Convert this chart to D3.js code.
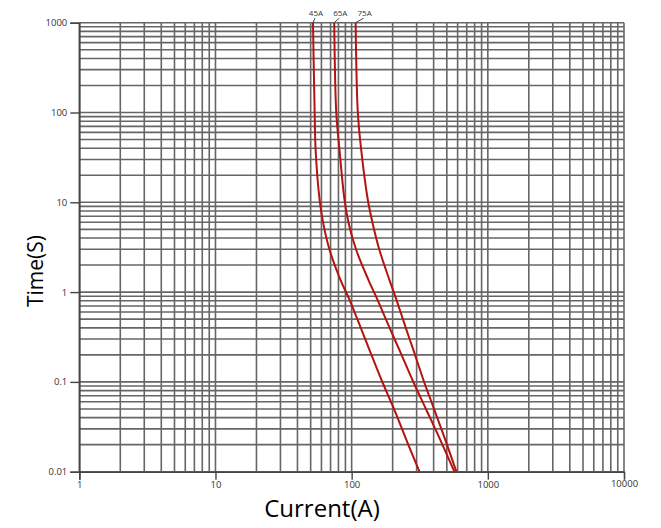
<!DOCTYPE html>
<html>
<head>
<meta charset="utf-8">
<script src="https://cdn.jsdelivr.net/npm/d3@7"></script>
<style>
  html, body { margin: 0; padding: 0; background: #fff; }
  svg { display: block; }
</style>
</head>
<body>
<svg id="chart" width="661" height="528"></svg>
<script>
// ---- data ----
const xTickValues = [1, 10, 100, 1000, 10000];
const xTickLabels = ["1", "10", "100", "1000", "10000"];
const yTickValues = [0.01, 0.1, 1, 10, 100, 1000];
const yTickLabels = ["0.01", "0.1", "1", "10", "100", "1000"];
const seriesNames = ["45A", "65A", "75A"];
// time (s) at which currents were read
const times = [1000, 100, 38, 10.6, 5.6, 2.94, 1.36, 0.82, 0.38, 0.226, 0.105, 0.0486, 0.0225, 0.01];
const current45 = [52, 53.5, 54.4, 58.2, 62.2, 68.9, 82.9, 96.5, 118.2, 135.3, 165.7, 206.3, 252.6, 314.7];
const current65 = [74.5, 77.1, 81.5, 88.7, 95.7, 108.1, 133, 154.9, 192.8, 224.5, 279.6, 354.1, 448.5, 568];
const current75 = [107, 111, 117.6, 131.5, 143.5, 160, 189.6, 213.4, 252.6, 284.3, 336.6, 405.4, 488, 587.5];
const xTitle = "Current(A)";
const yTitle = "Time(S)";

(function () {
// ---- layout ----
const svg = d3.select("#chart");
const pLeft = 79.3, pRight = 624, pTop = 22.7, pBottom = 471.7;
const x = d3.scaleLog().domain([1, 10000]).range([pLeft, pRight]);
const y = d3.scaleLog().domain([0.01, 1000]).range([pBottom, pTop]);

const gridColor = "#666666";

function logGrid(lo, hi) {
  const v = [];
  for (let d = lo; d < hi; d *= 10) {
    for (let k = 1; k <= 9; k++) v.push(+(d * k).toPrecision(6));
  }
  v.push(hi);
  return v;
}
const xGrid = logGrid(1, 10000);
const yGrid = logGrid(0.01, 1000);

const g = svg.append("g");
g.selectAll("line.vg").data(xGrid).enter().append("line")
  .attr("x1", d => x(d)).attr("x2", d => x(d))
  .attr("y1", pTop).attr("y2", pBottom)
  .attr("stroke", gridColor).attr("stroke-width", 1.6);
g.selectAll("line.hg").data(yGrid).enter().append("line")
  .attr("y1", d => y(d)).attr("y2", d => y(d))
  .attr("x1", pLeft).attr("x2", pRight)
  .attr("stroke", gridColor).attr("stroke-width", 1.6);

// axes
const xAxis = d3.axisBottom(x).tickValues(xTickValues)
  .tickFormat((d, i) => xTickLabels[i]).tickSize(8).tickPadding(2);
const yAxis = d3.axisLeft(y).tickValues(yTickValues)
  .tickFormat((d, i) => yTickLabels[i]).tickSize(9).tickPadding(3);

const gx = svg.append("g").attr("transform", `translate(0,${pBottom})`).call(xAxis);
const gy = svg.append("g").attr("transform", `translate(${pLeft},0)`).call(yAxis);
[gx, gy].forEach(a => {
  a.select(".domain").attr("stroke", "#444").attr("stroke-width", 1.6);
  a.selectAll(".tick line").attr("stroke", "#444").attr("stroke-width", 1.4);
  a.selectAll(".tick text").attr("fill", "#333")
    .style("font-family", "'Open Sans', sans-serif").style("font-size", "9.5px");
});
gx.selectAll(".tick").filter(d => d === 10000).select("line").remove();
gx.selectAll(".tick").filter(d => d === 10000).select("text").attr("y", 9);

// curves
const line = d3.line().x(d => x(d[0])).y(d => y(d[1])).curve(d3.curveCatmullRom.alpha(0.5));
const series = [
  { name: seriesNames[0], pts: current45.map((c, i) => [c, times[i]]) },
  { name: seriesNames[1], pts: current65.map((c, i) => [c, times[i]]) },
  { name: seriesNames[2], pts: current75.map((c, i) => [c, times[i]]) }
];
svg.selectAll("path.curve").data(series).enter().append("path")
  .attr("d", d => line(d.pts))
  .attr("fill", "none").attr("stroke", "#b3140f").attr("stroke-width", 2);

// curve labels with leader lines
const labelDx = [2, 5, 8];
series.forEach((s, i) => {
  const x0 = x(s.pts[0][0]);
  svg.append("line")
    .attr("x1", x0).attr("y1", pTop)
    .attr("x2", x0 + labelDx[i]).attr("y2", pTop - 4.5)
    .attr("stroke", "#444").attr("stroke-width", 1);
  svg.append("text")
    .attr("x", x0 + labelDx[i] + 1).attr("y", 16)
    .attr("text-anchor", "middle")
    .attr("fill", "#333")
    .style("font-family", "'Open Sans', sans-serif").style("font-size", "8px")
    .text(s.name);
});

// titles
svg.append("text").attr("x", 322).attr("y", 517)
  .attr("text-anchor", "middle").attr("fill", "#000")
  .style("font-family", "'Open Sans', sans-serif").style("font-size", "24px")
  .text(xTitle);
svg.append("text")
  .attr("transform", "translate(43,271) rotate(-90)")
  .attr("text-anchor", "middle").attr("fill", "#000")
  .style("font-family", "'Open Sans', sans-serif").style("font-size", "21px")
  .text(yTitle);
})();
</script>
</body>
</html>
